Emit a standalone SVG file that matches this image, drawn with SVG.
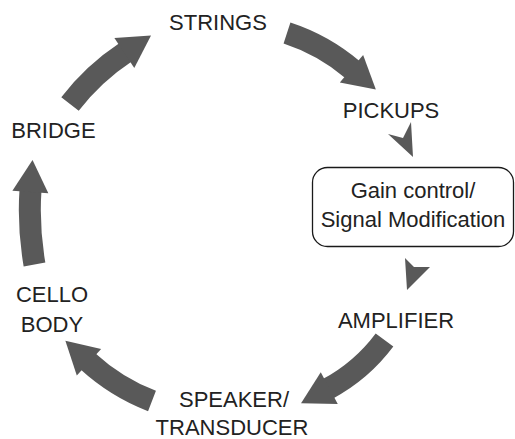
<svg xmlns="http://www.w3.org/2000/svg" width="515" height="439" viewBox="0 0 515 439">
<style>
  text { font-family: "Liberation Sans", Arial, sans-serif; font-size: 22px; fill: #222222; text-anchor: middle; }
  .box text { font-size: 22px; }
  .body { fill: none; stroke: #595959; stroke-width: 22; stroke-linecap: butt; }
  .dart { fill: #595959; }
</style>
<defs>
  <marker id="head" markerUnits="userSpaceOnUse" markerWidth="60" markerHeight="60" refX="0" refY="0" orient="auto" overflow="visible">
    <path d="M -2,-18 L 30,0 L -2,18 Z" fill="#595959"/>
  </marker>
</defs>
<rect width="515" height="439" fill="#ffffff"/>
<g id="connectors">
  <path class="body" d="M 287,33 Q 323.6,45 353,70" marker-end="url(#head)"/>
  <path class="body" d="M 384.5,340 Q 361.5,370.8 327.5,389" marker-end="url(#head)"/>
  <path class="body" d="M 152,401 Q 116.2,387.3 87.5,361" marker-end="url(#head)"/>
  <path class="body" d="M 34.5,264.5 Q 28,227 30.5,190" marker-end="url(#head)"/>
  <path class="body" d="M 70,104 Q 93.5,73.5 126,52" marker-end="url(#head)"/>
  <polygon class="dart" points="388,134 403,138 411,122 413,157"/>
  <polygon class="dart" points="405,258 414,267 430,267 407,290"/>
</g>
<g id="strings"><text x="218" y="30">STRINGS</text></g>
<g id="pickups"><text x="391" y="118">PICKUPS</text></g>
<g id="gain" class="box">
  <rect x="312.5" y="167.5" width="201" height="79" rx="15" fill="#ffffff" stroke="#1a1a1a" stroke-width="1.3"/>
  <text x="413" y="198">Gain control/</text>
  <text x="413" y="227">Signal Modification</text>
</g>
<g id="amplifier"><text x="396" y="328">AMPLIFIER</text></g>
<g id="speaker"><text x="234" y="407">SPEAKER/</text><text x="232" y="435">TRANSDUCER</text></g>
<g id="cello"><text x="52" y="302">CELLO</text><text x="52" y="332">BODY</text></g>
<g id="bridge"><text x="53.5" y="138">BRIDGE</text></g>
</svg>
